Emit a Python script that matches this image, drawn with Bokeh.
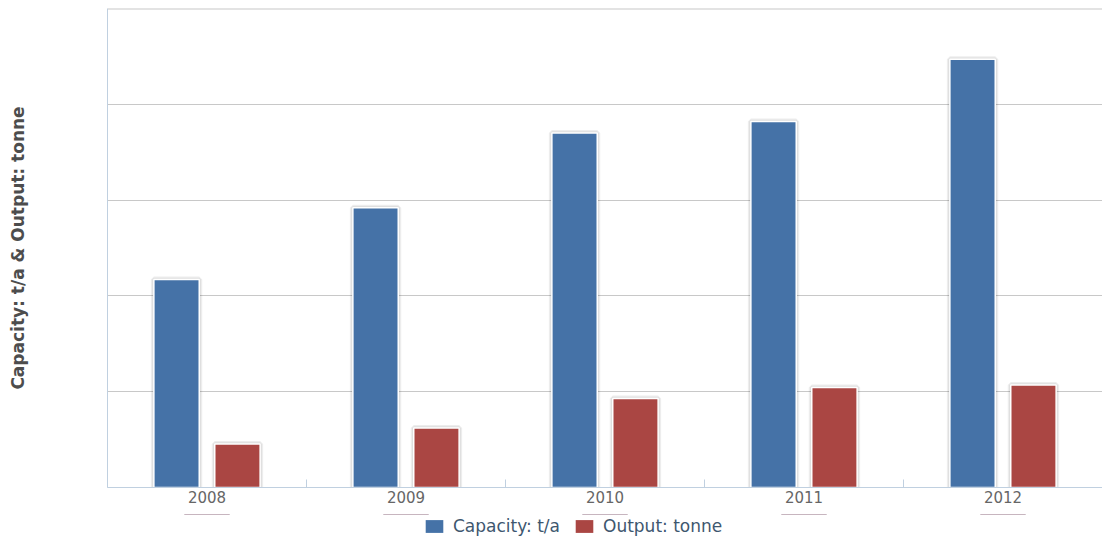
from bokeh.plotting import figure
from bokeh.layouts import column
from bokeh.models import (Range1d, FixedTicker, CustomJSTickFormatter, Legend, LegendItem,
                          ColumnDataSource, Span)
from bokeh.embed import file_html
from bokeh.resources import INLINE

# ---- data ----
years = ["2008", "2009", "2010", "2011", "2012"]
capacity = [2170, 2920, 3700, 3820, 4470]   # Capacity: t/a
output = [455, 620, 930, 1045, 1070]         # Output: tonne
y_ticks = [0, 1000, 2000, 3000, 4000, 5000]

series_names = ["Capacity: t/a", "Output: tonne"]
series_colors = ["#4572A7", "#AA4643"]

# ---- layout helpers ----
idx = list(range(len(years)))
centers = [i + 0.5 for i in idx]
bar_w = 0.228
offset = 0.153

p = figure(width=1102, height=514, output_backend="svg", toolbar_location=None,
           x_range=Range1d(0, len(years)), y_range=Range1d(y_ticks[0], y_ticks[-1]),
           min_border_left=107, min_border_right=0, min_border_top=8, min_border_bottom=27)

p.background_fill_color = "white"
p.border_fill_color = "white"
p.outline_line_color = None

series = [(capacity, series_colors[0], -1), (output, series_colors[1], 1)]
for vals, col, sign in series:
    xs = [c + sign * offset for c in centers]
    src = ColumnDataSource(dict(x=xs, top=vals))
    # soft shadow
    p.vbar(x="x", top="top", bottom=0, width=bar_w, source=src, fill_color=None,
           line_color="black", line_alpha=0.07, line_width=6)
    p.vbar(x="x", top="top", bottom=0, width=bar_w, source=src, fill_color=None,
           line_color="black", line_alpha=0.06, line_width=3.5)
    p.vbar(x="x", top="top", bottom=0, width=bar_w, source=src, fill_color=col,
           line_color="white", line_width=1.5)

# x axis: labels at category centres, ticks at category boundaries
xa = p.xaxis[0]
xa.ticker = FixedTicker(ticks=centers, minor_ticks=[float(i) for i in range(len(years) + 1)])
xa.major_label_overrides = {c: y for c, y in zip(centers, years)}
xa.major_tick_in = 0
xa.major_tick_out = 0
xa.minor_tick_in = 8
xa.minor_tick_out = 0
xa.minor_tick_line_color = "#C0D0E0"
xa.axis_line_color = "#C0D0E0"
xa.major_label_text_color = "#666666"
xa.major_label_text_font = "DejaVu Sans"
xa.major_label_text_font_size = "15px"
xa.major_label_standoff = 3

# y axis: labels hidden, title only
ya = p.yaxis[0]
ya.ticker = FixedTicker(ticks=y_ticks)
ya.formatter = CustomJSTickFormatter(code="return ''")
ya.major_tick_in = 0
ya.major_tick_out = 0
ya.minor_tick_in = 0
ya.minor_tick_out = 0
ya.axis_line_color = "#C0D0E0"
ya.axis_label = "Capacity: t/a & Output: tonne"
ya.axis_label_text_font = "DejaVu Sans"
ya.axis_label_text_font_style = "bold"
ya.axis_label_text_font_size = "17px"
ya.axis_label_text_color = "#4D4D4D"
ya.axis_label_standoff = 80

p.xgrid.grid_line_color = None
p.ygrid.grid_line_color = "#C8C8C8"
p.ygrid.grid_line_width = 1
# top grid line (grid skips the range end)
p.add_layout(Span(location=y_ticks[-1], dimension="width", line_color="#C8C8C8", line_width=2))

# ---- legend strip below the chart (its bars have zero height, so only the legend shows) ----
lf = figure(width=1102, height=22, output_backend="svg", toolbar_location=None,
            x_range=Range1d(0, len(years)), y_range=Range1d(-20000, -10000),
            x_axis_location=None, y_axis_location=None,
            min_border_left=0, min_border_right=0, min_border_top=0, min_border_bottom=0)
lf.outline_line_color = None
lf.xgrid.visible = False
lf.ygrid.visible = False
lf.border_fill_color = "white"
lf.background_fill_color = "white"

items = []
for name, (vals, col, sign) in zip(series_names, series):
    r = lf.vbar(x=centers, top=vals, bottom=vals, width=bar_w, fill_color=col, line_color=None)
    items.append(LegendItem(label=name, renderers=[r]))

legend = Legend(items=items, orientation="horizontal", location=(316, 0))
legend.label_text_font = "DejaVu Sans"
legend.label_text_font_size = "17px"
legend.label_text_color = "#3E576F"
legend.glyph_width = 22
legend.glyph_height = 16
legend.spacing = 13
legend.padding = 0
legend.margin = 0
legend.label_standoff = 8
legend.label_height = 16
legend.border_line_color = None
legend.background_fill_alpha = 0
lf.add_layout(legend, "center")

open("out.html", "w").write(file_html(column(p, lf, spacing=0), INLINE))
